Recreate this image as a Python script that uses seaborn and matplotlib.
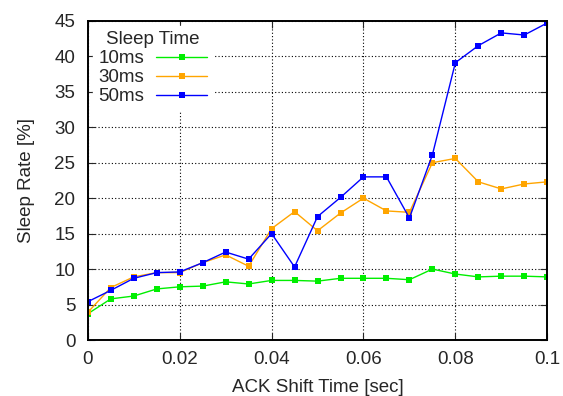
import matplotlib
matplotlib.use("Agg")
import matplotlib.pyplot as plt
import seaborn as sns
import pandas as pd

x = [0.0, 0.005, 0.01, 0.015, 0.02, 0.025, 0.03, 0.035, 0.04, 0.045, 0.05,
     0.055, 0.06, 0.065, 0.07, 0.075, 0.08, 0.085, 0.09, 0.095, 0.1]
s10 = [3.7, 5.8, 6.2, 7.2, 7.5, 7.6, 8.2, 7.9, 8.4, 8.4, 8.3,
       8.7, 8.7, 8.7, 8.5, 10.0, 9.3, 8.9, 9.0, 9.0, 8.9]
s30 = [3.9, 7.4, 8.9, 9.5, 9.5, 10.9, 12.0, 10.4, 15.7, 18.1, 15.4,
       17.9, 20.0, 18.2, 18.0, 25.0, 25.6, 22.3, 21.3, 22.0, 22.3]
s50 = [5.4, 7.0, 8.7, 9.5, 9.6, 10.9, 12.4, 11.4, 15.0, 10.3, 17.4,
       20.1, 23.0, 23.0, 17.2, 26.1, 39.1, 41.5, 43.3, 43.0, 44.7]
labels = ["10ms", "30ms", "50ms"]
colors = ["#00ee00", "#ffa500", "#0000ff"]
xticks = [0, 0.02, 0.04, 0.06, 0.08, 0.1]
xticklabels = ["0", "0.02", "0.04", "0.06", "0.08", "0.1"]
yticks = list(range(0, 46, 5))

df = pd.DataFrame({
    "x": x * 3,
    "y": s10 + s30 + s50,
    "Sleep Time": [labels[0]] * len(x) + [labels[1]] * len(x) + [labels[2]] * len(x),
})

FS = 13.5
sns.set_style("ticks")
plt.rcParams["font.family"] = ["Liberation Sans", "DejaVu Sans"]
plt.rcParams["font.size"] = FS

fig = plt.figure(figsize=(5.63, 3.96), dpi=100)
ax = fig.add_axes([0.156, 0.1414, 0.816, 0.806])

sns.lineplot(data=df, x="x", y="y", hue="Sleep Time", palette=colors,
             marker="s", markersize=5, markeredgewidth=0, linewidth=1,
             ax=ax, legend=True)

ax.set_xlim(0, 0.1)
ax.set_ylim(0, 45)
ax.set_xticks(xticks)
ax.set_xticklabels(xticklabels)
ax.set_yticks(yticks)
ax.grid(True, color="black", linestyle=(0, (1, 2)), linewidth=0.8)
ax.tick_params(direction="in", top=True, right=True, length=5, labelsize=FS)
ax.tick_params(axis="x", pad=8)
ax.tick_params(axis="y", pad=9)
for sp in ax.spines.values():
    sp.set_linewidth(1.4)
    sp.set_color("black")
ax.set_xlabel("ACK Shift Time [sec]", fontsize=FS, labelpad=8)
ax.set_ylabel("Sleep Rate [%]", fontsize=FS, labelpad=14)

h, l = ax.get_legend_handles_labels()
leg = ax.legend(h, l, title="Sleep Time", loc="upper left", frameon=True,
                markerfirst=False, fontsize=FS, title_fontsize=FS,
                handlelength=2.7, borderpad=0.25, labelspacing=0.1,
                handletextpad=0.65, borderaxespad=0.3)
leg.get_frame().set_facecolor("white")
leg.get_frame().set_edgecolor("white")
leg.get_frame().set_alpha(1)

fig.savefig("out.png", dpi=100)
